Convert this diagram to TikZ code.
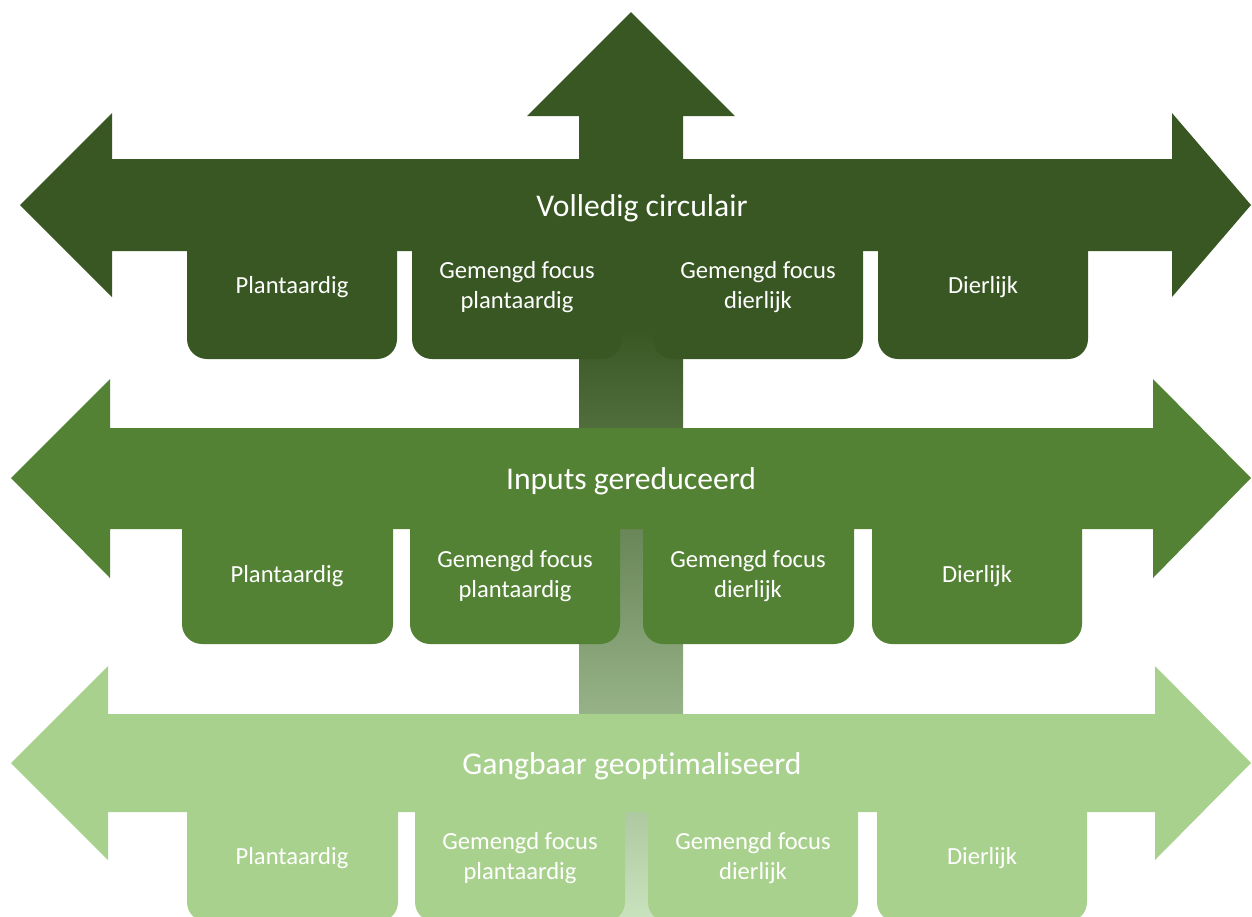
\documentclass[tikz,border=0pt]{standalone}
\usepackage{fontspec}
\setmainfont{Carlito}[Ligatures={TeX,NoCommon}]
\usetikzlibrary{calc}
\definecolor{DarkClr}{HTML}{385723}
\definecolor{MidClr}{HTML}{548235}
\definecolor{LightClr}{HTML}{A9D18E}
\definecolor{FadeClr}{HTML}{C8E2BD}

\tikzset{
  bandtext/.style={text=white,font=\fontsize{18}{22}\selectfont,anchor=base},
  boxtext/.style={text=white,font=\fontsize{14}{17}\selectfont,align=center,anchor=base},
  boxcorner/.style={rounded corners=.4cm}
}

\begin{document}
\begin{tikzpicture}[x=0.02cm,y=-0.02cm]
\useasboundingbox (0,0) rectangle (1252,917);
\clip (0,0) rectangle (1252,917);

% upward stem, fading towards the bottom
\fill[DarkClr] (579,330) -- (579,116) -- (527,116) -- (631,12) -- (735,116) -- (683,116) -- (683,330) -- cycle;
\shade[top color=DarkClr,bottom color=FadeClr] (579,329) rectangle (683,917);

% Volledig circulair
\fill[DarkClr] (20,205) -- (112,113) -- (112,159) -- (1172,159) -- (1172,113) -- (1251,205)
  -- (1172,297) -- (1172,251) -- (112,251) -- (112,297) -- cycle;
\foreach \xa/\xb in {187/397,412/622,653/863,878/1088}
  \fill[DarkClr,boxcorner] (\xa,211) rectangle (\xb,359);
\node[bandtext] (circ) at (642,216) {Volledig circulair};
\node[boxtext] (circ-1) at (292,293) {Plantaardig};
\node[boxtext] (circ-2) at (517,308) {Gemengd focus\\plantaardig};
\node[boxtext] (circ-3) at (758,308) {Gemengd focus\\dierlijk};
\node[boxtext] (circ-4) at (983,293) {Dierlijk};

% Inputs gereduceerd
\fill[MidClr] (11,478) -- (110,379) -- (110,428) -- (1153,428) -- (1153,379) -- (1251,478)
  -- (1153,578) -- (1153,529) -- (110,529) -- (110,578) -- cycle;
\foreach \xa/\xb in {182/393,410/620,643/854,872/1082}
  \fill[MidClr,boxcorner] (\xa,489) rectangle (\xb,644);
\node[bandtext] (inp) at (631,489) {Inputs gereduceerd};
\node[boxtext] (inp-1) at (287,582) {Plantaardig};
\node[boxtext] (inp-2) at (515,597) {Gemengd focus\\plantaardig};
\node[boxtext] (inp-3) at (748,597) {Gemengd focus\\dierlijk};
\node[boxtext] (inp-4) at (977,582) {Dierlijk};

% Gangbaar geoptimaliseerd
\fill[LightClr] (11,763) -- (108,666) -- (108,714) -- (1155,714) -- (1155,666) -- (1251,763)
  -- (1155,860) -- (1155,812) -- (108,812) -- (108,860) -- cycle;
\foreach \xa/\xb in {187/398,415/625,648/858,877/1087}
  \fill[LightClr,boxcorner] (\xa,772) rectangle (\xb,922);
\node[bandtext] (gang) at (632,774) {Gangbaar geoptimaliseerd};
\node[boxtext] (gang-1) at (292,864) {Plantaardig};
\node[boxtext] (gang-2) at (520,879) {Gemengd focus\\plantaardig};
\node[boxtext] (gang-3) at (753,879) {Gemengd focus\\dierlijk};
\node[boxtext] (gang-4) at (982,864) {Dierlijk};

\end{tikzpicture}
\end{document}
